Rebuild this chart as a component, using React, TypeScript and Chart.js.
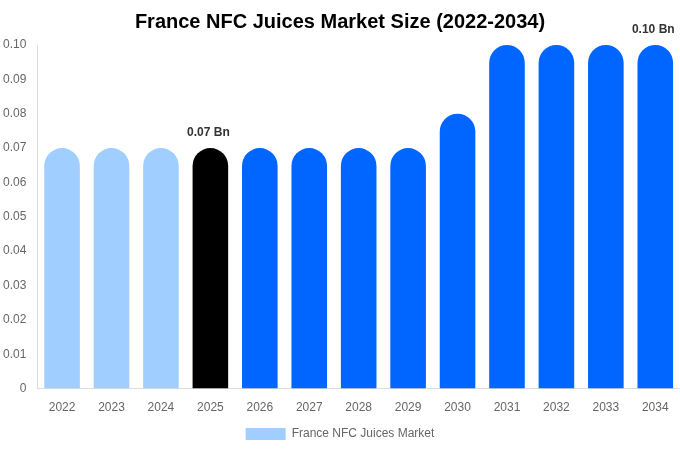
import React, { useEffect, useRef } from "react";
import { Chart, registerables } from "chart.js";

Chart.register(...registerables);

const categories = ["2022", "2023", "2024", "2025", "2026", "2027", "2028", "2029", "2030", "2031", "2032", "2033", "2034"];
const values = [0.07, 0.07, 0.07, 0.07, 0.07, 0.07, 0.07, 0.07, 0.08, 0.1, 0.1, 0.1, 0.1];
const barColors = ["#a0cfff", "#a0cfff", "#a0cfff", "#000000", "#0066ff", "#0066ff", "#0066ff", "#0066ff", "#0066ff", "#0066ff", "#0066ff", "#0066ff", "#0066ff"];
const labelledIndexes = [3, 12];
const seriesName = "France NFC Juices Market";
const titleText = "France NFC Juices Market Size (2022-2034)";

const valueLabels = {
  id: "valueLabels",
  afterDatasetsDraw(chart: any) {
    const ctx = chart.ctx;
    const meta = chart.getDatasetMeta(0);
    ctx.save();
    ctx.font = "bold 12px 'Liberation Sans', Arial, sans-serif";
    ctx.fillStyle = "#333333";
    ctx.textAlign = "center";
    ctx.textBaseline = "bottom";
    labelledIndexes.forEach((i) => {
      const el = meta.data[i];
      ctx.fillText(values[i].toFixed(2) + " Bn", el.x - 2, el.y - 9);
    });
    ctx.restore();
  },
};

export default function App() {
  const ref = useRef<HTMLCanvasElement>(null);
  useEffect(() => {
    document.body.style.margin = "0";
    const chart = new Chart(ref.current!, {
      type: "bar",
      data: {
        labels: categories,
        datasets: [
          {
            label: seriesName,
            data: values,
            backgroundColor: barColors,
            borderRadius: { topLeft: 40, topRight: 40 },
            borderSkipped: "bottom",
            barPercentage: 0.9,
            categoryPercentage: 0.8,
          },
        ],
      },
      options: {
        animation: false,
        responsive: false,
        maintainAspectRatio: false,
        layout: { padding: { left: 0, right: 0, top: 0, bottom: 0 } },
        plugins: {
          title: {
            display: true,
            text: titleText,
            color: "#000000",
            font: { size: 20, weight: "bold", family: "'Liberation Sans', Arial, sans-serif" },
            padding: { top: 10, bottom: 11 },
          },
          legend: {
            position: "bottom",
            labels: {
              color: "#666666",
              boxWidth: 40,
              boxHeight: 12,
              padding: 9,
              font: { size: 12, family: "'Liberation Sans', Arial, sans-serif" },
              generateLabels: () => [
                { text: seriesName, fillStyle: barColors[0], strokeStyle: barColors[0], lineWidth: 0, datasetIndex: 0, fontColor: "#666666" } as any,
              ],
            },
          },
          tooltip: { enabled: false },
        },
        scales: {
          x: {
            grid: { display: false },
            border: { display: true, color: "#dddddd" },
            ticks: { color: "#666666", padding: 4, font: { size: 12, family: "'Liberation Sans', Arial, sans-serif" } },
          },
          y: {
            min: 0,
            max: 0.1,
            grid: { display: false },
            border: { display: true, color: "#dddddd" },
            ticks: {
              stepSize: 0.01,
              color: "#666666",
              font: { size: 12, family: "'Liberation Sans', Arial, sans-serif" },
              callback: (v: any) => (Number(v) === 0 ? "0" : Number(v).toFixed(2)),
            },
          },
        },
      },
      plugins: [valueLabels],
    });
    return () => chart.destroy();
  }, []);
  return (
    <div style={{ width: 680, height: 450 }}>
      <canvas ref={ref} width={680} height={450} style={{ display: "block" }} />
    </div>
  );
}
